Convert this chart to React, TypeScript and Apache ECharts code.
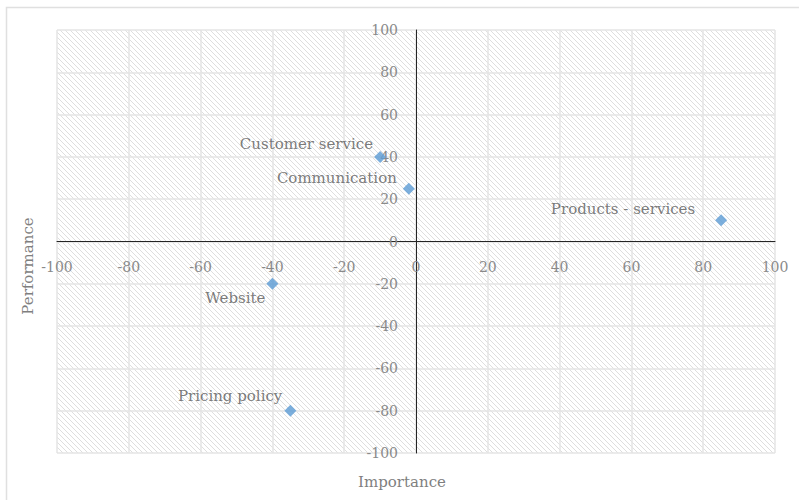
import React, { useEffect, useRef } from "react";
import * as echarts from "echarts";

const names = ["Customer service", "Communication", "Products - services", "Website", "Pricing policy"];
const importance = [-10, -2, 85, -40, -35];
const performance = [40, 25, 10, -20, -80];
const labelOffsets: [number, number][] = [[-1, -13], [-6, -11], [-20, -11], [-1, 14], [-2, -15]];

const FONT = "DejaVu Serif";

const hatch =
  "data:image/svg+xml;utf8," +
  encodeURIComponent(
    "<svg xmlns='http://www.w3.org/2000/svg' width='5' height='5'>" +
      "<rect width='5' height='5' fill='white'/>" +
      "<path d='M-1,-1 L6,6 M-1,4 L1,6 M4,-1 L6,1' stroke='#dedede' stroke-width='1'/>" +
      "</svg>"
  );

export default function App() {
  const ref = useRef<HTMLDivElement>(null);
  useEffect(() => {
    const chart = echarts.init(ref.current!, undefined, { renderer: "svg" });
    const data = names.map((n, i) => ({
      name: n,
      value: [importance[i], performance[i]],
      label: { offset: labelOffsets[i] },
    }));
    chart.setOption({
      animation: false,
      backgroundColor: "#ffffff",
      textStyle: { fontFamily: FONT },
      grid: {
        left: 57,
        right: 24,
        top: 30,
        bottom: 47,
        show: true,
        borderWidth: 0,
        backgroundColor: { image: hatch, repeat: "repeat" },
      },
      xAxis: {
        type: "value",
        min: -100,
        max: 100,
        interval: 20,
        offset: -211.5,
        axisLine: { onZero: false, lineStyle: { color: "#262626", width: 1 } },
        axisTick: { show: false },
        axisLabel: { color: "#8a8a8a", fontSize: 14, fontFamily: FONT, margin: 18 },
        splitLine: { show: true, lineStyle: { color: "#e4e4e4", width: 1.5 } },
      },
      yAxis: {
        type: "value",
        min: -100,
        max: 100,
        interval: 20,
        offset: -359,
        axisLine: { onZero: false, lineStyle: { color: "#262626", width: 1 } },
        axisTick: { show: false },
        axisLabel: { color: "#8a8a8a", fontSize: 14, fontFamily: FONT, margin: 18 },
        splitLine: { show: true, lineStyle: { color: "#e4e4e4", width: 1.5 } },
      },
      graphic: [
        {
          type: "rect",
          shape: { x: 6.5, y: 7.5, width: 800, height: 500 },
          style: { fill: "none", stroke: "#e0e0e0", lineWidth: 1.5 },
          silent: true,
          z: -10,
        },
        {
          type: "text",
          x: 402,
          y: 482,
          style: {
            text: "Importance",
            fill: "#7f7f7f",
            font: `15px "${FONT}"`,
            align: "center",
            verticalAlign: "middle",
          },
        },
        {
          type: "text",
          x: 28,
          y: 266,
          rotation: Math.PI / 2,
          style: {
            text: "Performance",
            fill: "#7f7f7f",
            font: `15px "${FONT}"`,
            align: "center",
            verticalAlign: "middle",
          },
        },
      ],
      series: [
        {
          type: "scatter",
          symbol: "diamond",
          symbolSize: 12,
          itemStyle: { color: "#5b9bd5" },
          label: {
            show: true,
            position: "left",
            distance: 0,
            formatter: "{b}",
            color: "#595959",
            fontSize: 15,
            fontFamily: FONT,
          },
          data,
        },
      ],
    });
    return () => chart.dispose();
  }, []);
  return (
    <div
      ref={ref}
      style={{ position: "fixed", left: 0, top: 0, width: 799, height: 500 }}
    />
  );
}
